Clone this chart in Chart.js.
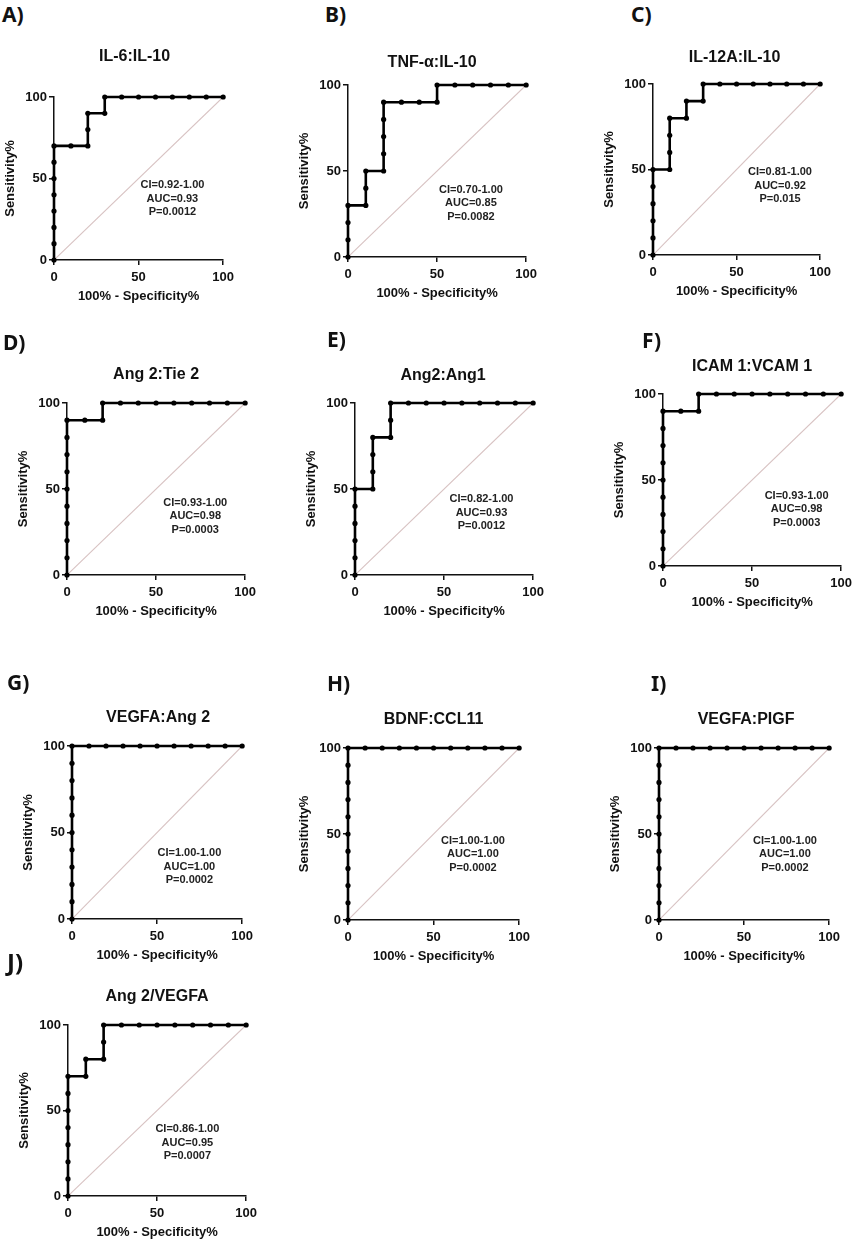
<!DOCTYPE html>
<html>
<head>
<meta charset="utf-8">
<title>ROC curves</title>
<script src="https://cdn.jsdelivr.net/npm/chart.js@4.4.1/dist/chart.umd.min.js"></script>
<style>
  html, body { margin: 0; padding: 0; background: #fff; overflow: hidden; }
  #page { position: relative; width: 858px; height: 1245px; }
  .panel { position: absolute; }
  .letter {
    position: absolute;
    font-family: "Noto Sans", "Liberation Sans", Arial, sans-serif;
    font-weight: bold;
    color: #111;
    line-height: 1;
    white-space: nowrap;
  }
</style>
</head>
<body>
<div id="page"></div>
<script>
// ROC points: x = 100% - specificity%, y = sensitivity%
const titles = ['IL-6:IL-10', 'TNF-α:IL-10', 'IL-12A:IL-10', 'Ang 2:Tie 2', 'Ang2:Ang1',
  'ICAM 1:VCAM 1', 'VEGFA:Ang 2', 'BDNF:CCL11', 'VEGFA:PIGF', 'Ang 2/VEGFA'];
const letters = ['A)', 'B)', 'C)', 'D)', 'E)', 'F)', 'G)', 'H)', 'I)', 'J)'];

const ciLabels = ['CI=0.92-1.00', 'CI=0.70-1.00', 'CI=0.81-1.00', 'CI=0.93-1.00', 'CI=0.82-1.00',
  'CI=0.93-1.00', 'CI=1.00-1.00', 'CI=1.00-1.00', 'CI=1.00-1.00', 'CI=0.86-1.00'];
const aucLabels = ['AUC=0.93', 'AUC=0.85', 'AUC=0.92', 'AUC=0.98', 'AUC=0.93',
  'AUC=0.98', 'AUC=1.00', 'AUC=1.00', 'AUC=1.00', 'AUC=0.95'];
const pLabels = ['P=0.0012', 'P=0.0082', 'P=0.015', 'P=0.0003', 'P=0.0012',
  'P=0.0003', 'P=0.0002', 'P=0.0002', 'P=0.0002', 'P=0.0007'];

const axisTicks = [0, 50, 100];

const fprA = [0, 0, 0, 0, 0, 0, 0, 0, 10, 20, 20, 20, 30, 30, 40, 50, 60, 70, 80, 90, 100];
const tprA = [0, 10, 20, 30, 40, 50, 60, 70, 70, 70, 80, 90, 90, 100, 100, 100, 100, 100, 100, 100, 100];

const fprB = [0, 0, 0, 0, 10, 10, 10, 20, 20, 20, 20, 20, 30, 40, 50, 50, 60, 70, 80, 90, 100];
const tprB = [0, 10, 20, 30, 30, 40, 50, 50, 60, 70, 80, 90, 90, 90, 90, 100, 100, 100, 100, 100, 100];

const fprC = [0, 0, 0, 0, 0, 0, 10, 10, 10, 10, 20, 20, 30, 30, 40, 50, 60, 70, 80, 90, 100];
const tprC = [0, 10, 20, 30, 40, 50, 50, 60, 70, 80, 80, 90, 90, 100, 100, 100, 100, 100, 100, 100, 100];

const fprD = [0, 0, 0, 0, 0, 0, 0, 0, 0, 0, 10, 20, 20, 30, 40, 50, 60, 70, 80, 90, 100];
const tprD = [0, 10, 20, 30, 40, 50, 60, 70, 80, 90, 90, 90, 100, 100, 100, 100, 100, 100, 100, 100, 100];

const fprE = [0, 0, 0, 0, 0, 0, 10, 10, 10, 10, 20, 20, 20, 30, 40, 50, 60, 70, 80, 90, 100];
const tprE = [0, 10, 20, 30, 40, 50, 50, 60, 70, 80, 80, 90, 100, 100, 100, 100, 100, 100, 100, 100, 100];

const fprF = [0, 0, 0, 0, 0, 0, 0, 0, 0, 0, 10, 20, 20, 30, 40, 50, 60, 70, 80, 90, 100];
const tprF = [0, 10, 20, 30, 40, 50, 60, 70, 80, 90, 90, 90, 100, 100, 100, 100, 100, 100, 100, 100, 100];

const fprG = [0, 0, 0, 0, 0, 0, 0, 0, 0, 0, 0, 10, 20, 30, 40, 50, 60, 70, 80, 90, 100];
const tprG = [0, 10, 20, 30, 40, 50, 60, 70, 80, 90, 100, 100, 100, 100, 100, 100, 100, 100, 100, 100, 100];

const fprH = [0, 0, 0, 0, 0, 0, 0, 0, 0, 0, 0, 10, 20, 30, 40, 50, 60, 70, 80, 90, 100];
const tprH = [0, 10, 20, 30, 40, 50, 60, 70, 80, 90, 100, 100, 100, 100, 100, 100, 100, 100, 100, 100, 100];

const fprI = [0, 0, 0, 0, 0, 0, 0, 0, 0, 0, 0, 10, 20, 30, 40, 50, 60, 70, 80, 90, 100];
const tprI = [0, 10, 20, 30, 40, 50, 60, 70, 80, 90, 100, 100, 100, 100, 100, 100, 100, 100, 100, 100, 100];

const fprJ = [0, 0, 0, 0, 0, 0, 0, 0, 10, 10, 20, 20, 20, 30, 40, 50, 60, 70, 80, 90, 100];
const tprJ = [0, 10, 20, 30, 40, 50, 60, 70, 70, 80, 80, 90, 100, 100, 100, 100, 100, 100, 100, 100, 100];

const diagX = [0, 100];
const diagY = [0, 100];

const fprs = [fprA, fprB, fprC, fprD, fprE, fprF, fprG, fprH, fprI, fprJ];
const tprs = [tprA, tprB, tprC, tprD, tprE, tprF, tprG, tprH, tprI, tprJ];

// page layout: plot area in page px, title gap above plot, note anchor in data units, letter spot
const frames = [
  { l: 54,  r: 225, t: 97,   b: 260,  gap: 40, dx: -4, note: [70, 46],   lx: 2,   ly: 14,  ls: 21 },
  { l: 348, r: 528, t: 85,   b: 257,  gap: 22, dx: -5, note: [69, 39],   lx: 325, ly: 14,  ls: 21 },
  { l: 653, r: 822, t: 84,   b: 255,  gap: 26, dx: -2, note: [76, 48.5], lx: 631, ly: 14,  ls: 21 },
  { l: 67,  r: 247, t: 403,  b: 575,  gap: 28, dx: 0,  note: [72, 42],   lx: 3,   ly: 342, ls: 21 },
  { l: 355, r: 535, t: 403,  b: 575,  gap: 27, dx: -1, note: [71, 44],   lx: 327, ly: 339, ls: 21 },
  { l: 663, r: 843, t: 394,  b: 566,  gap: 27, dx: 0,  note: [75, 41],   lx: 642, ly: 340, ls: 21 },
  { l: 72,  r: 244, t: 746,  b: 919,  gap: 28, dx: 1,  note: [69, 38],   lx: 7,   ly: 682, ls: 21 },
  { l: 348, r: 521, t: 748,  b: 920,  gap: 28, dx: 0,  note: [73, 46],   lx: 327, ly: 683, ls: 21 },
  { l: 659, r: 831, t: 748,  b: 920,  gap: 28, dx: 2,  note: [74, 46],   lx: 651, ly: 683, ls: 21 },
  { l: 68,  r: 248, t: 1025, b: 1196, gap: 28, dx: 0,  note: [67, 39],   lx: 7,   ly: 962, ls: 24 }
];

const Y_AXIS_W = 52;
const X_AXIS_H = 44;
const PAD_TOP = 52;
const PAD_RIGHT = 14;
const FONT = '"Liberation Sans", Arial, Helvetica, sans-serif';

Chart.defaults.font.family = FONT;
Chart.defaults.font.weight = 'bold';
Chart.defaults.color = '#111';

// draws the panel title and the CI / AUC / P note
const panelText = {
  id: 'panelText',
  afterDraw(chart, args, opts) {
    const { ctx, chartArea, scales } = chart;
    ctx.save();
    ctx.fillStyle = '#111';
    ctx.textAlign = 'center';
    ctx.textBaseline = 'middle';
    ctx.font = 'bold 16px ' + FONT;
    ctx.fillText(opts.title, (chartArea.left + chartArea.right) / 2 + opts.dx, chartArea.top - opts.gap);
    ctx.font = 'bold 11px ' + FONT;
    ctx.fillStyle = '#222';
    const nx = scales.x.getPixelForValue(opts.note[0]);
    const ny = scales.y.getPixelForValue(opts.note[1]);
    opts.lines.forEach((line, i) => ctx.fillText(line, nx, ny + i * 13.5));
    ctx.restore();
  }
};

function axis(titleText, isY) {
  return {
    type: 'linear',
    min: 0,
    max: 100,
    afterFit: (scale) => {
      if (isY) scale.width = Y_AXIS_W;
      else scale.height = X_AXIS_H;
    },
    afterBuildTicks: (scale) => {
      scale.ticks = axisTicks.map(v => ({ value: v }));
    },
    ticks: {
      font: { size: 13, weight: 'bold' },
      color: '#111',
      padding: isY ? 2 : 5,
      maxRotation: 0
    },
    grid: {
      display: true,
      drawOnChartArea: false,
      drawTicks: true,
      tickLength: 5,
      color: '#111',
      lineWidth: 1.5
    },
    border: { display: true, color: '#111', width: 1.5 },
    title: {
      display: true,
      text: titleText,
      font: { size: 13, weight: 'bold' },
      color: '#111',
      padding: isY ? { top: 1, bottom: 0 } : { top: 0, bottom: 0 }
    }
  };
}

const page = document.getElementById('page');

frames.forEach((f, i) => {
  const w = Y_AXIS_W + (f.r - f.l) + PAD_RIGHT;
  const h = PAD_TOP + (f.b - f.t) + X_AXIS_H;

  const box = document.createElement('div');
  box.className = 'panel';
  box.style.left = (f.l - Y_AXIS_W) + 'px';
  box.style.top = (f.t - PAD_TOP) + 'px';
  box.style.width = w + 'px';
  box.style.height = h + 'px';
  const canvas = document.createElement('canvas');
  box.appendChild(canvas);
  page.appendChild(box);

  const tag = document.createElement('div');
  tag.className = 'letter';
  tag.textContent = letters[i];
  tag.style.left = f.lx + 'px';
  tag.style.top = (f.ly - f.ls / 2) + 'px';
  tag.style.fontSize = f.ls + 'px';
  page.appendChild(tag);

  const roc = fprs[i].map((x, k) => ({ x: x, y: tprs[i][k] }));
  const diag = diagX.map((x, k) => ({ x: x, y: diagY[k] }));

  new Chart(canvas.getContext('2d'), {
    type: 'line',
    data: {
      datasets: [
        {
          label: titles[i],
          data: roc,
          borderColor: '#000',
          backgroundColor: '#000',
          borderWidth: 2.6,
          pointRadius: 2.6,
          pointBorderWidth: 0,
          pointBackgroundColor: '#000',
          tension: 0,
          clip: false
        },
        {
          label: 'reference',
          data: diag,
          borderColor: '#d8c3c3',
          borderWidth: 1.1,
          pointRadius: 0,
          tension: 0
        }
      ]
    },
    options: {
      responsive: true,
      maintainAspectRatio: false,
      animation: false,
      layout: { padding: { top: PAD_TOP, right: PAD_RIGHT, left: 0, bottom: 0 } },
      scales: {
        x: axis('100% - Specificity%', false),
        y: axis('Sensitivity%', true)
      },
      plugins: {
        legend: { display: false },
        tooltip: { enabled: false },
        panelText: {
          title: titles[i],
          dx: f.dx,
          gap: f.gap,
          note: f.note,
          lines: [ciLabels[i], aucLabels[i], pLabels[i]]
        }
      }
    },
    plugins: [panelText]
  });
});
</script>
</body>
</html>
